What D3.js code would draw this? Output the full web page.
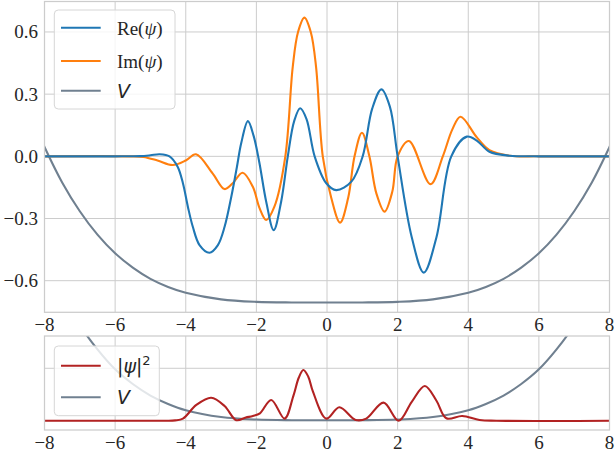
<!DOCTYPE html>
<html><head><meta charset="utf-8">
<script src="https://cdnjs.cloudflare.com/ajax/libs/d3/7.8.5/d3.min.js"></script>
<style>body{margin:0;background:#fff}svg{display:block}</style>
</head><body>
<svg id="c" width="615" height="451" font-family="Liberation Serif, serif"></svg>
<script>
// ---- data ----
const xTicks = [-8,-6,-4,-2,0,2,4,6,8];
const xTickLabels = ["−8","−6","−4","−2","0","2","4","6","8"];
const yTicksTop = [-0.6,-0.3,0.0,0.3,0.6];
const yTickLabelsTop = ["−0.6","−0.3","0.0","0.3","0.6"];
const yGridBottom = [0, 0.5];

const reX = [-8,-6,-5.3,-5.0,-4.74,-4.46,-4.23,-4.08,-3.94,-3.8,-3.61,-3.33,-3.09,-2.9,-2.71,-2.55,-2.43,-2.24,-2.08,-1.92,-1.72,-1.51,-1.3,-1.11,-0.93,-0.76,-0.58,-0.35,-0.02,0.26,0.69,1.01,1.28,1.54,1.78,2.0,2.4,2.74,3.1,3.52,3.96,4.25,4.6,5.17,6,8];
const reY = [0,0,0.001,0.005,0.01,0,-0.05,-0.13,-0.243,-0.34,-0.428,-0.465,-0.428,-0.34,-0.195,-0.05,0.063,0.17,0.1,-0.026,-0.22,-0.356,-0.22,0,0.17,0.232,0.18,0,-0.13,-0.163,-0.122,0,0.23,0.323,0.24,0,-0.39,-0.561,-0.39,0,0.095,0.075,0.022,0.003,0,0];

const imX = [-8,-5.6,-5.2,-4.8,-4.37,-4.0,-3.71,-3.24,-2.9,-2.67,-2.39,-2.1,-1.91,-1.72,-1.49,-1.18,-0.97,-0.82,-0.64,-0.46,-0.31,-0.12,0.12,0.37,0.6,0.78,0.99,1.2,1.4,1.63,1.85,2.0,2.32,2.93,3.28,3.55,3.78,4.25,4.6,5.17,6,8];
const imY = [0,0,-0.003,-0.02,-0.042,-0.02,0.01,-0.082,-0.158,-0.13,-0.079,-0.147,-0.25,-0.307,-0.243,0,0.432,0.6,0.669,0.6,0.432,0,-0.2,-0.32,-0.2,0,0.114,0,-0.18,-0.267,-0.17,0,0.074,-0.134,0,0.13,0.191,0.09,0.03,0.003,0,0];

const probX = [-8,-4.6,-4.3,-4.08,-3.7,-3.28,-2.9,-2.57,-2.3,-2.1,-1.9,-1.58,-1.2,-0.95,-0.8,-0.67,-0.53,-0.4,-0.02,0.35,0.81,1.11,1.6,2.03,2.4,2.77,3.1,3.38,3.83,4.32,4.8,8];
const probY = [0,0,0.003,0.02,0.15,0.219,0.14,0.005,0.03,0.045,0.07,0.198,0.02,0.24,0.41,0.484,0.42,0.28,0.02,0.128,0.007,0.02,0.172,0,0.18,0.331,0.19,0.023,0.045,0.007,0,0];

const vX = [-8,-7.5,-7,-6.5,-6,-5.5,-5,-4.5,-4,-3,-2,-1,0,1,2,3,4,4.5,5,5.5,6,6.5,7,7.5,8];
const vTop = [0.045,-0.126,-0.265,-0.378,-0.468,-0.537,-0.591,-0.630,-0.658,-0.690,-0.702,-0.705,-0.705,-0.705,-0.702,-0.690,-0.658,-0.630,-0.591,-0.537,-0.468,-0.378,-0.265,-0.126,0.045];
const vBottom = [1.55,1.2,0.91,0.68,0.49,0.35,0.24,0.16,0.1,0.035,0.011,0.005,0.005,0.005,0.011,0.035,0.1,0.16,0.24,0.35,0.49,0.68,0.91,1.2,1.55];

const colRe = "#1f77b4", colIm = "#ff7f0e", colV = "#708090", colP = "#b22222";
const serif = "Liberation Serif, DejaVu Serif, serif";
const sans = "DejaVu Sans, sans-serif";

const svg = d3.select("#c");
const L = 44.5, R = 609.5;
const x = d3.scaleLinear().domain([-8, 8]).range([L, R]);
const yTop = d3.scaleLinear().domain([-0.7525, 0.747]).range([312.3, 1.5]);
const yBot = d3.scaleLinear().domain([-0.0887, 0.808]).range([430, 336]);

const defs = svg.append("defs");
function clip(id, y0, y1){
  defs.append("clipPath").attr("id", id).append("rect")
    .attr("x", L).attr("y", y0).attr("width", R - L).attr("height", y1 - y0);
}
clip("clipTop", 1.5, 312.3);
clip("clipBot", 336, 430);

function axesFrame(y, yticks, labels){
  const g = svg.append("g");
  const [y1, y0] = y.range();
  g.selectAll(".vx").data(xTicks.slice(1, -1)).join("line")
    .attr("x1", d => x(d)).attr("x2", d => x(d)).attr("y1", y0).attr("y2", y1)
    .attr("stroke", "#cccccc").attr("stroke-width", 1);
  g.selectAll(".hy").data(yticks).join("line")
    .attr("x1", L).attr("x2", R).attr("y1", d => y(d)).attr("y2", d => y(d))
    .attr("stroke", "#cccccc").attr("stroke-width", 1);
  g.selectAll(".xl").data(xTicks).join("text")
    .attr("x", d => x(d)).attr("y", y1 + 18.5)
    .attr("text-anchor", "middle").attr("font-family", serif).attr("font-size", 19)
    .attr("fill", "#262626").text((d, i) => xTickLabels[i]);
  if (labels) {
    g.selectAll(".yl").data(yticks).join("text")
      .attr("x", 38).attr("y", d => y(d)).attr("dy", "0.34em")
      .attr("text-anchor", "end").attr("font-family", serif).attr("font-size", 19)
      .attr("fill", "#262626").text((d, i) => labels[i]);
  }
  return g;
}
function spines(y){
  const [y1, y0] = y.range();
  svg.append("rect").attr("x", L).attr("y", y0).attr("width", R - L).attr("height", y1 - y0)
    .attr("fill", "none").attr("stroke", "#cccccc").attr("stroke-width", 1.25);
}

function drawLine(xs, ys, y, color, clipId){
  const line = d3.line().x(d => x(d[0])).y(d => y(d[1])).curve(d3.curveCatmullRom.alpha(0.5));
  svg.append("path").datum(xs.map((v, i) => [v, ys[i]]))
    .attr("d", line).attr("fill", "none").attr("stroke", color)
    .attr("stroke-width", 2.1).attr("stroke-linejoin", "round").attr("stroke-linecap", "square")
    .attr("clip-path", `url(#${clipId})`);
}

// ---- top axes ----
axesFrame(yTop, yTicksTop, yTickLabelsTop);
drawLine(vX, vTop, yTop, colV, "clipTop");
drawLine(imX, imY, yTop, colIm, "clipTop");
drawLine(reX, reY, yTop, colRe, "clipTop");
spines(yTop);

// ---- bottom axes ----
axesFrame(yBot, yGridBottom, null);
drawLine(vX, vBottom, yBot, colV, "clipBot");
drawLine(probX, probY, yBot, colP, "clipBot");
spines(yBot);

// ---- legends ----
function legend(x0, y0, w, h, items){
  const g = svg.append("g");
  g.append("rect").attr("x", x0).attr("y", y0).attr("width", w).attr("height", h)
    .attr("rx", 4).attr("fill", "rgba(255,255,255,0.8)").attr("stroke", "#d6d6d6").attr("stroke-width", 1);
  items.forEach(it => {
    g.append("line").attr("x1", 61).attr("x2", 100.7).attr("y1", it.y).attr("y2", it.y)
      .attr("stroke", it.color).attr("stroke-width", 2.1);
    const t = g.append("text").attr("x", 117).attr("y", it.y).attr("dy", "0.36em")
      .attr("font-size", 19).attr("fill", "#262626");
    it.parts.forEach(p => {
      const ts = t.append("tspan").attr("font-family", p.f).text(p.t);
      if (p.i) ts.attr("font-style", "italic");
      if (p.sup) ts.attr("font-size", 13).attr("dy", "-0.6em");
    });
  });
}
legend(54.3, 10, 120.7, 99, [
  {y: 27.7, color: colRe, parts: [{t: "Re(", f: serif}, {t: "ψ", f: serif, i: true}, {t: ")", f: serif}]},
  {y: 61, color: colIm, parts: [{t: "Im(", f: serif}, {t: "ψ", f: serif, i: true}, {t: ")", f: serif}]},
  {y: 90.7, color: colV, parts: [{t: "V", f: sans, i: true}]}
]);
legend(54.3, 346, 105, 69.7, [
  {y: 365.7, color: colP, parts: [{t: "|", f: sans}, {t: "ψ", f: sans, i: true}, {t: "|", f: sans}, {t: "2", f: sans, sup: true}]},
  {y: 397.3, color: colV, parts: [{t: "V", f: sans, i: true}]}
]);
</script>
</body></html>
